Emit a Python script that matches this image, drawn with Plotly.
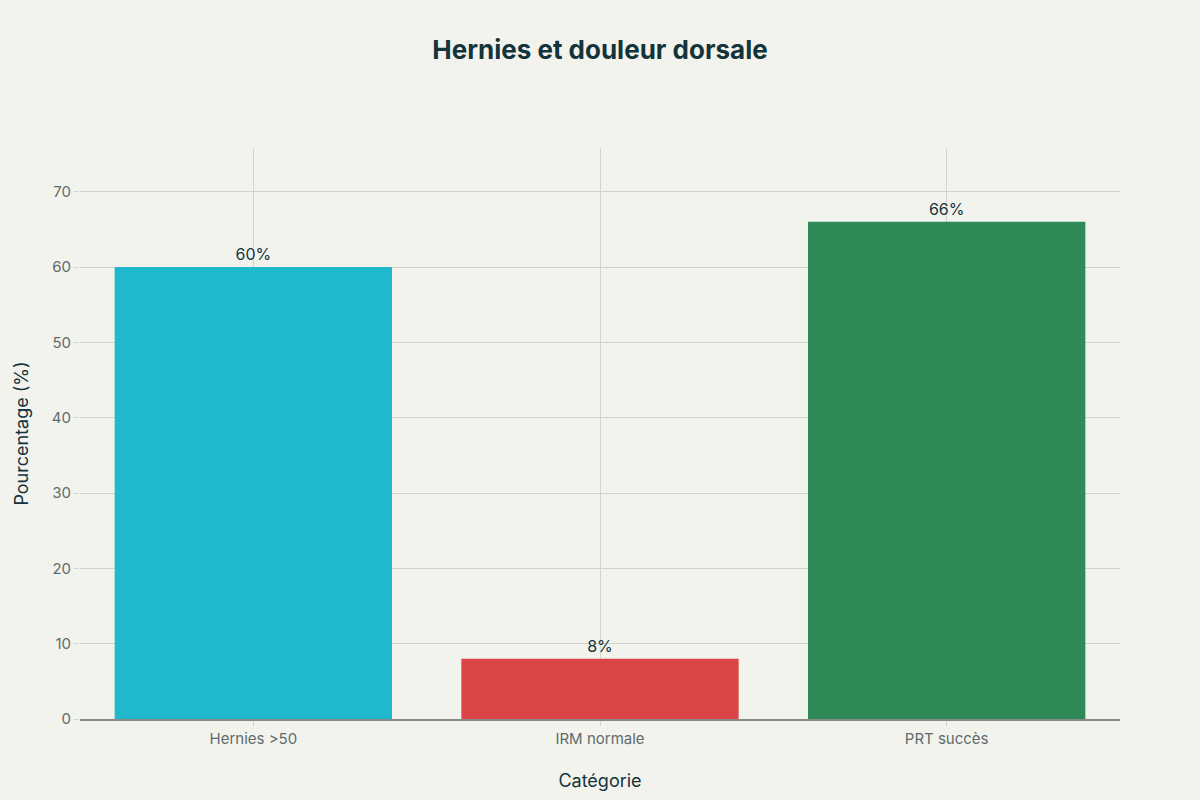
import plotly.graph_objects as go

categories = ["Hernies >50", "IRM normale", "PRT succès"]
values = [60, 8, 66]
labels = ["60%", "8%", "66%"]
colors = ["#1FB8CD", "#DB4545", "#2E8B57"]

fig = go.Figure(go.Bar(
    x=categories, y=values, text=labels, textposition="outside",
    marker=dict(color=colors, line=dict(width=0)),
    textfont=dict(size=16, color="#13343B"),
    cliponaxis=False,
))

fig.update_layout(
    width=1200, height=800,
    paper_bgcolor="#F3F3EE", plot_bgcolor="#F3F3EE",
    font=dict(family="Inter, Roboto, sans-serif", color="#13343B"),
    title=dict(text="<b>Hernies et douleur dorsale</b>", x=0.5, xanchor="center",
               y=0.938, yanchor="middle", font=dict(size=26, color="#13343B")),
    margin=dict(l=80, r=80, t=148, b=81),
    bargap=0.2,
    showlegend=False,
)
fig.update_xaxes(
    title=dict(text="Catégorie", font=dict(size=18, color="#13343B"), standoff=27),
    tickfont=dict(size=15, color="#5F6B6D"),
    showgrid=True, gridcolor="#D3D4D0", gridwidth=1,
    ticks="outside", ticklen=5, tickcolor="#D3D4D0",
    showline=True, linecolor="#888885", linewidth=2,
)
fig.update_yaxes(
    title=dict(text="Pourcentage (%)", font=dict(size=18, color="#13343B"), standoff=18),
    tickfont=dict(size=15, color="#5F6B6D"),
    range=[0, 75.8], dtick=10,
    showgrid=True, gridcolor="#D3D4D0", gridwidth=1,
    ticks="outside", ticklen=5, tickcolor="#D3D4D0",
    zeroline=False,
)

fig.write_html("out.html", config={"displayModeBar": False},
               post_script="document.body.style.margin='0';")
